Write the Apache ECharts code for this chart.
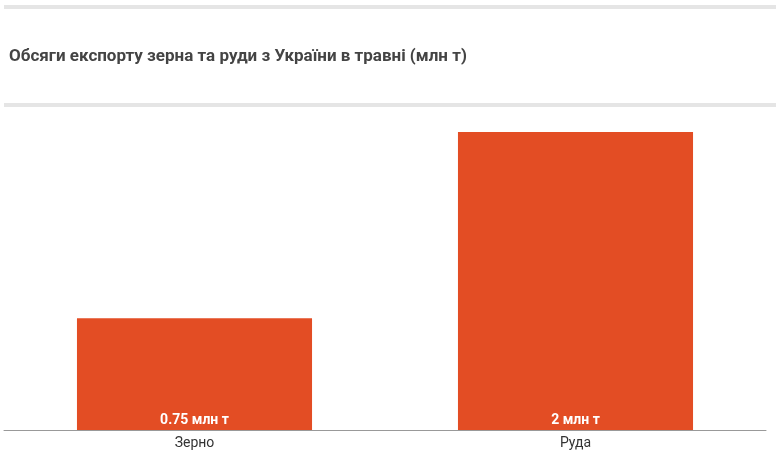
<!DOCTYPE html>
<html><head><meta charset="utf-8">
<script src="https://cdn.jsdelivr.net/npm/echarts@6/dist/echarts.min.js"></script>
<style>html,body{margin:0;padding:0;background:#fff}#c{width:780px;height:461px}</style>
</head><body><div id="c"></div>
<script>
const categories = ["Зерно", "Руда"];
const values = [0.75, 2];
const labels = ["0.75 млн т", "2 млн т"];
const chart = echarts.init(document.getElementById('c'));
chart.setOption({
  animation: false,
  title: {text: "Обсяги експорту зерна та руди з України в травні (млн т)", left: 4, top: 43,
    textStyle: {fontFamily: "Roboto", fontSize: 17, fontWeight: "bold", color: "#444"}},
  graphic: [
    {type: 'rect', shape: {x: 4, y: 5, width: 772, height: 4}, style: {fill: '#e5e5e5'}},
    {type: 'rect', shape: {x: 4, y: 103, width: 772, height: 4}, style: {fill: '#e5e5e5'}}
  ],
  grid: {left: 4, right: 14, top: 132, bottom: 31},
  xAxis: {type: 'category', data: categories,
    axisLine: {lineStyle: {color: '#999'}}, axisTick: {show: false},
    axisLabel: {fontFamily: "Roboto", fontSize: 14, color: '#333', margin: 6}},
  yAxis: {type: 'value', min: 0, max: 2, show: false, splitLine: {show: false}},
  series: [{type: 'bar', data: values, barWidth: '61.7%', itemStyle: {color: '#e34d24'},
    label: {show: true, position: 'insideBottom', distance: 3, color: '#fff', fontFamily: "Roboto",
      fontSize: 14, fontWeight: 'bold', formatter: p => labels[p.dataIndex]}}]
});
</script></body></html>
